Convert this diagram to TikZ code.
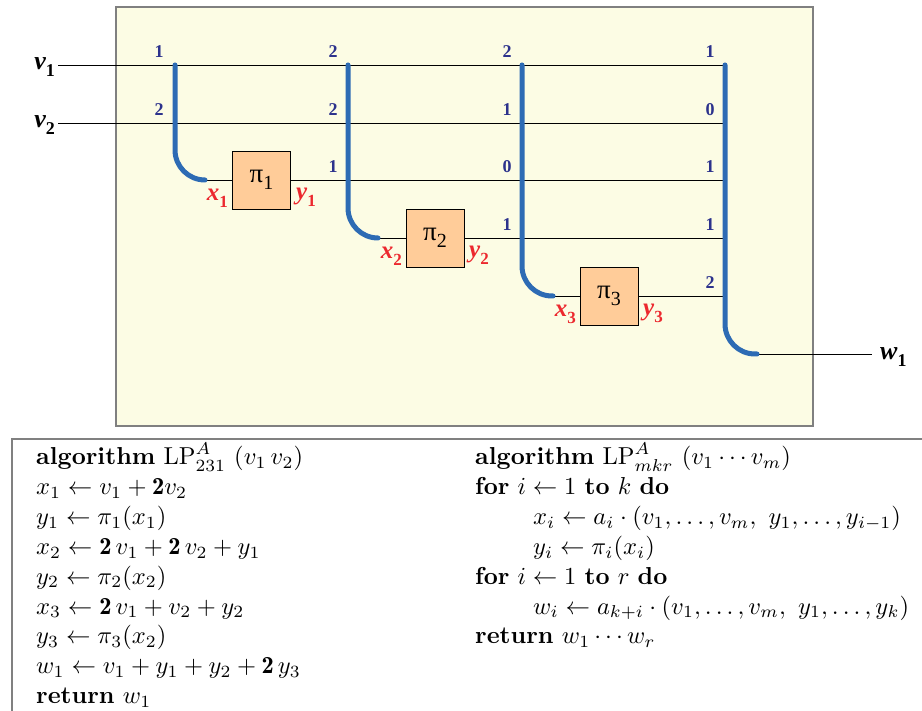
\documentclass[tikz,border=0pt]{standalone}
\usepackage{fontspec}
\newfontfamily\lser{Liberation Serif}
\definecolor{panel}{RGB}{252,252,228}
\definecolor{barblue}{RGB}{45,107,180}
\definecolor{navy}{RGB}{44,50,140}
\definecolor{lred}{RGB}{236,40,46}
\definecolor{peach}{RGB}{255,204,153}
\definecolor{frame}{RGB}{128,128,128}
\newcommand{\sublab}[4]{{\lser\fontsize{#3}{#3}\selectfont\bfseries\itshape #1\raisebox{-0.25em}{\upshape\fontsize{#4}{#4}\selectfont #2}}}
\newcommand{\pisym}[1]{{\lser\fontsize{27}{27}\selectfont π\raisebox{-0.28em}{\fontsize{20}{20}\selectfont #1}}}
\newcommand{\algline}[1]{\scalebox{2.45}{#1}}
\tikzset{
  wire/.style={draw=black, line width=0.8pt},
  bar/.style={draw=barblue, line width=5pt, line cap=round, rounded corners=30pt},
  pibox/.style={draw=black, fill=peach, line width=0.8pt, minimum width=58pt, minimum height=58pt, inner sep=0pt},
  num/.style={anchor=base, inner sep=0pt, text=navy, font=\lser\bfseries\fontsize{18}{18}\selectfont},
  inlab/.style={anchor=base east, inner sep=0pt},
  redlab/.style={inner sep=0pt, text=lred},
  alg/.style={anchor=base west, inner sep=0pt, font=\normalsize},
}
\begin{document}
\begin{tikzpicture}[x=1pt,y=-1pt]
\useasboundingbox (0,0) rectangle (922,711);
% panel
\draw[draw=frame, fill=panel, line width=2pt] (116,7) rectangle (813,426);
% input labels and start points
\coordinate (s1) at (58,65);
\coordinate (s2) at (58,123);
\node[inlab] (lv1) at (55,70) {\sublab{v}{1}{26}{18}};
\node[inlab] (lv2) at (55,128) {\sublab{v}{2}{26}{18}};
% bar tops and ends
\coordinate (b1t) at (175,65); \coordinate (b1e) at (205,180);
\coordinate (b2t) at (348,65); \coordinate (b2e) at (378,238);
\coordinate (b3t) at (522,65); \coordinate (b3e) at (553,296);
\coordinate (b4t) at (725,65); \coordinate (b4e) at (757,354);
\coordinate (r2) at (725,123);
\coordinate (r3) at (725,180);
\coordinate (r4) at (725,238);
\coordinate (r5) at (725,296);
\coordinate (wend) at (872,354);
% boxes
\node[pibox] (p1) at (261.5,180) {\pisym{1}};
\node[pibox] (p2) at (435,238) {\pisym{2}};
\node[pibox] (p3) at (609,296) {\pisym{3}};
% wires
\draw[wire] (s1) -- (b4t);
\draw[wire] (s2) -- (r2);
\draw[wire] (b1e) -- (p1.west);
\draw[wire] (p1.east) -- (r3);
\draw[wire] (b2e) -- (p2.west);
\draw[wire] (p2.east) -- (r4);
\draw[wire] (b3e) -- (p3.west);
\draw[wire] (p3.east) -- (r5);
\draw[wire] (b4e) -- (wend);
% bars
\draw[bar] (b1t) |- (b1e);
\draw[bar] (b2t) |- (b2e);
\draw[bar] (b3t) |- (b3e);
\draw[bar] (b4t) |- (b4e);
% output label
\node[anchor=base west, inner sep=0pt] (lw1) at (880,360) {\sublab{w}{1}{26}{18}};
% red labels
\node[redlab, anchor=base east] (lx1) at (228,201) {\sublab{x}{1}{25}{17}};
\node[redlab, anchor=base west] (ly1) at (296,200) {\sublab{y}{1}{25}{17}};
\node[redlab, anchor=base east] (lx2) at (402,259) {\sublab{x}{2}{25}{17}};
\node[redlab, anchor=base west] (ly2) at (469,258) {\sublab{y}{2}{25}{17}};
\node[redlab, anchor=base east] (lx3) at (576,317) {\sublab{x}{3}{25}{17}};
\node[redlab, anchor=base west] (ly3) at (643,316) {\sublab{y}{3}{25}{17}};
% numbers
\node[num] (n11) at (159,58) {1};
\node[num] (n12) at (159,116) {2};
\node[num] (n21) at (333,58) {2};
\node[num] (n22) at (333,116) {2};
\node[num] (n23) at (333,173) {1};
\node[num] (n31) at (507,58) {2};
\node[num] (n32) at (507,116) {1};
\node[num] (n33) at (507,173) {0};
\node[num] (n34) at (507,231) {1};
\node[num] (n41) at (710,58) {1};
\node[num] (n42) at (710,116) {0};
\node[num] (n43) at (710,173) {1};
\node[num] (n44) at (710,231) {1};
\node[num] (n45) at (710,289) {2};
% algorithm frame
\coordinate (fa) at (12,711);
\coordinate (fb) at (12,439);
\coordinate (fc) at (922,439);
\draw[draw=frame, line width=1.5pt] (fa) -- (fb) -- (fc);
% left algorithm
\node[alg] (a1) at (36,465.0) {\algline{\textbf{algorithm} $\mathrm{LP}^{A}_{231}\ (v_1\, v_2)$}};
\node[alg] (a2) at (36,494.8) {\algline{$x_1 \leftarrow v_1 + \mathbf{2}v_2$}};
\node[alg] (a3) at (36,524.6) {\algline{$y_1 \leftarrow \pi_1(x_1)$}};
\node[alg] (a4) at (36,554.4) {\algline{$x_2 \leftarrow \mathbf{2}\,v_1 + \mathbf{2}\,v_2 + y_1$}};
\node[alg] (a5) at (36,584.2) {\algline{$y_2 \leftarrow \pi_2(x_2)$}};
\node[alg] (a6) at (36,614.0) {\algline{$x_3 \leftarrow \mathbf{2}\,v_1 + v_2 + y_2$}};
\node[alg] (a7) at (36,643.8) {\algline{$y_3 \leftarrow \pi_3(x_2)$}};
\node[alg] (a8) at (36,673.6) {\algline{$w_1 \leftarrow v_1 + y_1 + y_2 + \mathbf{2}\,y_3$}};
\node[alg] (a9) at (36,703.4) {\algline{\textbf{return} $w_1$}};
% right algorithm
\node[alg] (b1) at (475,465.0) {\algline{\textbf{algorithm} $\mathrm{LP}^{A}_{mkr}\ (v_1 \cdots v_m)$}};
\node[alg] (b2) at (475,494.8) {\algline{\textbf{for} $i \leftarrow 1$ \textbf{to} $k$ \textbf{do}}};
\node[alg] (b3) at (533,524.6) {\algline{$x_i \leftarrow a_i \cdot (v_1, \ldots, v_m,\ y_1, \ldots, y_{i-1})$}};
\node[alg] (b4) at (533,554.4) {\algline{$y_i \leftarrow \pi_i(x_i)$}};
\node[alg] (b5) at (475,584.2) {\algline{\textbf{for} $i \leftarrow 1$ \textbf{to} $r$ \textbf{do}}};
\node[alg] (b6) at (533,614.0) {\algline{$w_i \leftarrow a_{k+i} \cdot (v_1, \ldots, v_m,\ y_1, \ldots, y_k)$}};
\node[alg] (b7) at (475,643.8) {\algline{\textbf{return} $w_1 \cdots w_r$}};
\end{tikzpicture}
\end{document}
